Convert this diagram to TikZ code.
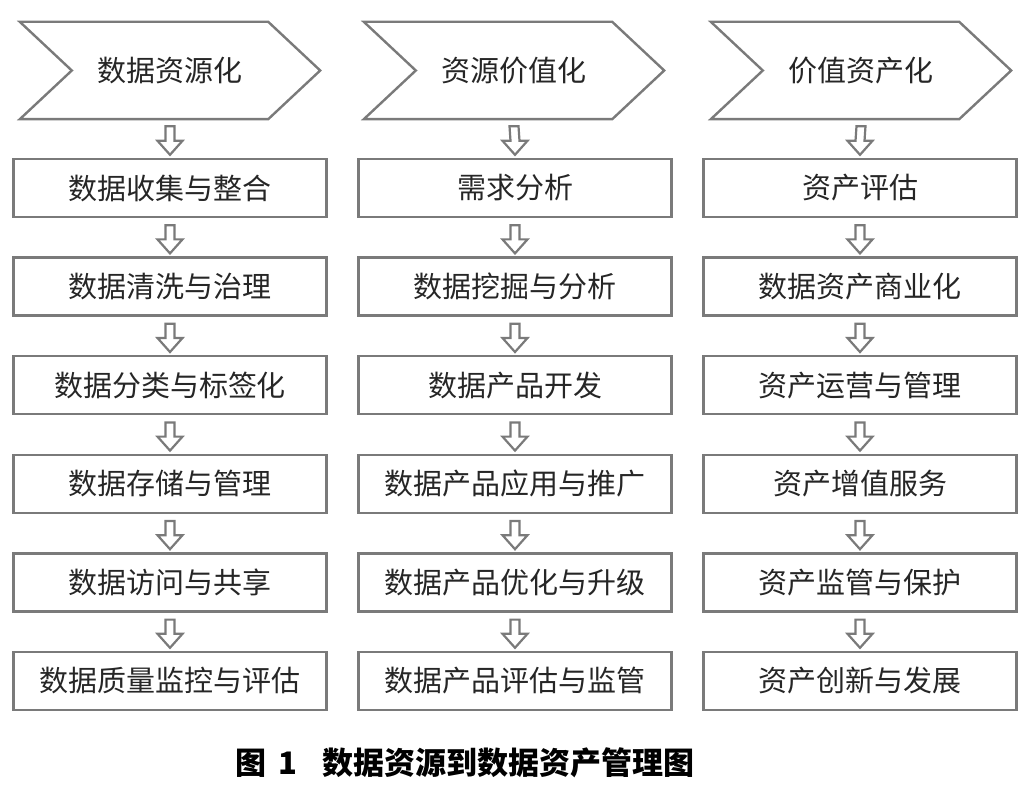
\documentclass[tikz,border=0pt]{standalone}
\usepackage{fontspec}
\setmainfont{Noto Sans CJK SC}
\usetikzlibrary{calc}
\definecolor{linegray}{HTML}{7A7A7A}
\definecolor{textgray}{HTML}{262626}
\newcommand\hollowarrow[2]{%
  \draw[harrow] ([xshift=-4.5pt,yshift=-7pt]#1.south)
    -- ([xshift=-4.5pt,yshift=17pt]#2.north)
    -- ([xshift=-12.5pt,yshift=17pt]#2.north)
    -- ([yshift=3pt]#2.north)
    -- ([xshift=12.5pt,yshift=17pt]#2.north)
    -- ([xshift=4.5pt,yshift=17pt]#2.north)
    -- ([xshift=4.5pt,yshift=-7pt]#1.south) -- cycle;}
\newcommand\chevronshape[1]{%
  \draw[chevline] (#1.north west) -- ([xshift=-52pt]#1.north east) -- (#1.east)
    -- ([xshift=-52pt]#1.south east) -- (#1.south west) -- ([xshift=52pt]#1.west) -- cycle;}
\begin{document}
\begin{tikzpicture}[x=1pt,y=-1pt,
  box/.style={draw=linegray, line width=2.4pt, minimum width=313pt, minimum height=58pt,
    inner sep=0pt, text=textgray, font=\fontsize{29}{32}\selectfont},
  chev/.style={minimum width=300pt, minimum height=97pt, inner sep=0pt, text=textgray,
    font=\fontsize{29}{32}\selectfont},
  chevline/.style={draw=linegray, line width=2.4pt, line join=miter},
  harrow/.style={draw=linegray, line width=2.2pt, fill=white, line join=miter},
  captionstyle/.style={inner sep=0pt, text=black, font=\fontsize{31}{36}\selectfont\bfseries}]
\useasboundingbox (0,0) rectangle (1029,805);

% chevrons
\node[chev] (c1) at (170,70.5) {数据资源化};
\node[chev] (c2) at (514,70.5) {资源价值化};
\node[chev] (c3) at (861,70.5) {价值资产化};
\chevronshape{c1}
\chevronshape{c2}
\chevronshape{c3}

% left column
\node[box] (a1) at (170,188) {数据收集与整合};
\node[box] (a2) at (170,286.6) {数据清洗与治理};
\node[box] (a3) at (170,385.2) {数据分类与标签化};
\node[box] (a4) at (170,483.8) {数据存储与管理};
\node[box] (a5) at (170,582.4) {数据访问与共享};
\node[box] (a6) at (170,681) {数据质量监控与评估};

% middle column
\node[box] (b1) at (515,188) {需求分析};
\node[box] (b2) at (515,286.6) {数据挖掘与分析};
\node[box] (b3) at (515,385.2) {数据产品开发};
\node[box] (b4) at (515,483.8) {数据产品应用与推广};
\node[box] (b5) at (515,582.4) {数据产品优化与升级};
\node[box] (b6) at (515,681) {数据产品评估与监管};

% right column
\node[box] (r1) at (860,188) {资产评估};
\node[box] (r2) at (860,286.6) {数据资产商业化};
\node[box] (r3) at (860,385.2) {资产运营与管理};
\node[box] (r4) at (860,483.8) {资产增值服务};
\node[box] (r5) at (860,582.4) {资产监管与保护};
\node[box] (r6) at (860,681) {资产创新与发展};

% arrows
\hollowarrow{c1}{a1}
\hollowarrow{a1}{a2}
\hollowarrow{a2}{a3}
\hollowarrow{a3}{a4}
\hollowarrow{a4}{a5}
\hollowarrow{a5}{a6}
\hollowarrow{c2}{b1}
\hollowarrow{b1}{b2}
\hollowarrow{b2}{b3}
\hollowarrow{b3}{b4}
\hollowarrow{b4}{b5}
\hollowarrow{b5}{b6}
\hollowarrow{c3}{r1}
\hollowarrow{r1}{r2}
\hollowarrow{r2}{r3}
\hollowarrow{r3}{r4}
\hollowarrow{r4}{r5}
\hollowarrow{r5}{r6}

% caption
\node[captionstyle, anchor=west] (capnum) at (235,763) {图\hspace{12pt}1};
\node[captionstyle, anchor=west] (captext) at (322,763) {数据资源到数据资产管理图};
\end{tikzpicture}
\end{document}
